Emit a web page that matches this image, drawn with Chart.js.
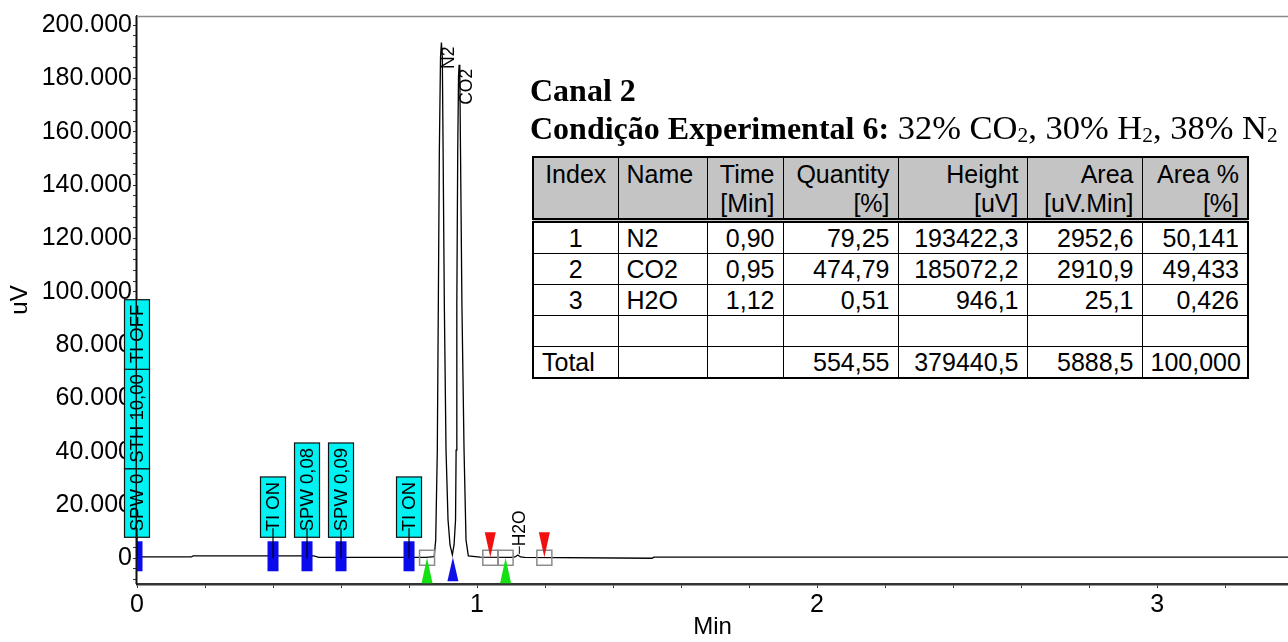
<!DOCTYPE html>
<html>
<head>
<meta charset="utf-8">
<script src="https://cdn.jsdelivr.net/npm/chart.js@4.4.1/dist/chart.umd.min.js"></script>
<style>
  html, body { margin: 0; padding: 0; background: #fff; }
  #wrap { position: relative; width: 1288px; height: 642px; overflow: hidden; }
  #chart { position: absolute; left: 0; top: 0; }
  .title { position: absolute; left: 530px; font-family: "Liberation Serif", "Times New Roman", serif;
           font-size: 32px; line-height: 37px; color: #000; white-space: nowrap; }
  .title .reg { font-size: 34.5px; }
  .title sub { font-size: 0.62em; vertical-align: -0.15em; line-height: 0; }
  #tbl { position: absolute; left: 532px; top: 156px; width: 715px; table-layout: fixed;
         border-collapse: collapse; background: #fff; border: 2px solid #000;
         font-family: "Liberation Sans", Arial, sans-serif; font-size: 25px; color: #000; }
  #tbl td, #tbl th { border: 1.5px solid #000; padding: 0 8px; font-weight: normal; white-space: nowrap;
                     line-height: 29px; height: 30px; text-align: right; overflow: visible; }
  #tbl th { background: #c4c4c4; vertical-align: top; height: 58px; border-bottom: 5px double #000; padding-top: 2px; }
  #tbl .l { text-align: left; }
  #tbl .c { text-align: center; }
</style>
</head>
<body>
<div id="wrap">
  <canvas id="chart" width="1288" height="642"></canvas>
  <div class="title" style="top:72px"><b>Canal 2</b></div>
  <div class="title" style="top:109px"><b>Condição Experimental 6:</b><span class="reg"> 32% CO<sub>2</sub>, 30% H<sub>2</sub>, 38% N<sub>2</sub></span></div>
  <table id="tbl"></table>
</div>
<script>
// ─── data ────────────────────────────────────────────────────────────────────
const traceTime  = [0, 0.16, 0.165, 0.52, 0.535, 0.85, 0.874, 0.8785, 0.8832, 0.8862, 0.8891, 0.8926, 0.8953,
                    0.8979, 0.9003, 0.9038, 0.9088, 0.9147, 0.9206, 0.9274, 0.9324, 0.9368, 0.9385, 0.9406,
                    0.9432, 0.9456, 0.9474, 0.9494, 0.9515, 0.9555, 0.9618, 0.9676, 0.9744, 1.009, 1.10,
                    1.112, 1.12, 1.128, 1.14, 1.515, 1.52, 3.385];
const traceValue = [500, 500, 900, 900, 300, 300, 600, 6900, 40600, 95600, 151700, 188000, 193422,
                    188000, 151700, 95600, 40600, 14400, 5000, 1300, 5000, 14400, 40600, 95600,
                    151700, 181000, 185072, 181000, 151700, 95600, 40600, 6900, 900, 400, 300,
                    500, 1250, 500, 300, 0, 400, 400];

const eventTimes  = [0, 0.4, 0.5, 0.6, 0.8];
const eventLabels = [['SPW 0', 'STH 10,00', 'TI OFF'], ['TI ON'], ['SPW 0,08'], ['SPW 0,09'], ['TI ON']];

const peakStartTimes = [0.853, 1.084];
const valleyTimes    = [0.929];
const peakEndTimes   = [1.039, 1.198];

const peakNames      = ['N2', 'CO2', 'H2O'];
const peakApexTimes  = [0.8953, 0.9474, 1.12];
const peakApexValues = [193422, 185072, 1250];

const xTickLabels = [0, 1, 2, 3];
const yTickLabels = [0, 20000, 40000, 60000, 80000, 100000, 120000, 140000, 160000, 180000, 200000];

const tableHead = [['Index', ''], ['Name', ''], ['Time', '[Min]'], ['Quantity', '[%]'],
                   ['Height', '[uV]'], ['Area', '[uV.Min]'], ['Area %', '[%]']];
const tableRows = [
  ['1', 'N2', '0,90', '79,25', '193422,3', '2952,6', '50,141'],
  ['2', 'CO2', '0,95', '474,79', '185072,2', '2910,9', '49,433'],
  ['3', 'H2O', '1,12', '0,51', '946,1', '25,1', '0,426'],
  ['', '', '', '', '', '', ''],
  ['Total', '', '', '554,55', '379440,5', '5888,5', '100,000'],
];

// ─── results table ───────────────────────────────────────────────────────────
const colW = [85, 89, 76, 115, 129, 115, 106];
(function buildTable() {
  const t = document.getElementById('tbl');
  let html = '<colgroup>' + colW.map(w => `<col style="width:${w}px">`).join('') + '</colgroup>';
  html += '<tr>' + tableHead.map((h, i) =>
    `<th class="${i === 0 ? 'c' : i === 1 ? 'l' : ''}">${h[0]}${h[1] ? '<br>' + h[1] : ''}</th>`).join('') + '</tr>';
  tableRows.forEach((r, ri) => {
    html += '<tr>' + r.map((c, i) => {
      let cls = '';
      if (i === 0) cls = ri === 4 ? 'l' : 'c';
      if (i === 1) cls = 'l';
      return `<td class="${cls}">${c || '&nbsp;'}</td>`;
    }).join('') + '</tr>';
  });
  t.innerHTML = html;
})();

// ─── chart ───────────────────────────────────────────────────────────────────
const SANS = '"Liberation Sans", Arial, sans-serif';
const yFmt = v => v === 0 ? '0' : (v / 1000) + '.000';

const markPlugin = {
  id: 'marks',
  afterDatasetsDraw(chart) {
    const { ctx, chartArea: a, scales: { x, y } } = chart;
    const y0 = y.getPixelForValue(0);
    ctx.save();

    // top frame
    ctx.strokeStyle = '#8a8a8a';
    ctx.lineWidth = 1.5;
    ctx.beginPath(); ctx.moveTo(a.left, a.top + 0.5); ctx.lineTo(a.right, a.top + 0.5); ctx.stroke();

    // peak names
    ctx.fillStyle = '#000';
    ctx.font = '17.5px ' + SANS;
    ctx.textBaseline = 'middle';
    peakNames.forEach((n, i) => {
      const px = x.getPixelForValue(peakApexTimes[i]);
      const py = y.getPixelForValue(peakApexValues[i]);
      ctx.save();
      if (y0 - py > 40) {
        ctx.translate(px + 8, py + 4);
        ctx.rotate(-Math.PI / 2);
        ctx.textAlign = 'right';
        ctx.fillText(n, 0, 0);
      } else {
        ctx.strokeStyle = '#000'; ctx.lineWidth = 1;
        ctx.beginPath(); ctx.moveTo(px + 1.5, y0 - 12); ctx.lineTo(px + 1.5, py - 1); ctx.stroke();
        ctx.translate(px + 2, y0 - 12);
        ctx.rotate(-Math.PI / 2);
        ctx.textAlign = 'left';
        ctx.fillText(n, 0, 0);
      }
      ctx.restore();
    });

    // integration marks, clipped to plot area
    ctx.save();
    ctx.beginPath(); ctx.rect(a.left, a.top, a.right - a.left, a.bottom - a.top); ctx.clip();

    const tri = (px, tipY, baseY, col) => {
      ctx.fillStyle = col;
      ctx.beginPath(); ctx.moveTo(px, tipY); ctx.lineTo(px - 5.5, baseY); ctx.lineTo(px + 5.5, baseY); ctx.closePath(); ctx.fill();
    };
    const box = px => {
      ctx.strokeStyle = '#8c8c8c'; ctx.lineWidth = 1.5;
      ctx.strokeRect(px - 7.5, y0 - 8, 15, 15);
    };
    peakStartTimes.forEach(t => { const px = x.getPixelForValue(t); box(px); tri(px, y0 - 0.5, y0 + 25, '#14e014'); });
    peakEndTimes.forEach(t => { const px = x.getPixelForValue(t); box(px); tri(px, y0 - 1, y0 - 26, '#f01010'); });
    valleyTimes.forEach(t => { const px = x.getPixelForValue(t); tri(px, y0 - 1, y0 + 23, '#1010e8'); });

    // blue event ticks
    ctx.fillStyle = '#0a0aee';
    eventTimes.forEach(t => { const px = x.getPixelForValue(t); ctx.fillRect(px - 5.5, y0 - 17, 11, 30); });
    ctx.restore();

    // event label boxes
    ctx.font = '18.5px ' + SANS;
    eventTimes.forEach((t, i) => {
      const px = x.getPixelForValue(t);
      let bottom = y0 - 21;
      eventLabels[i].forEach(lab => {
        const h = ctx.measureText(lab).width + 11;
        ctx.fillStyle = '#00f2f2';
        ctx.fillRect(px - 12.5, bottom - h, 25, h);
        ctx.strokeStyle = '#111'; ctx.lineWidth = 1.2;
        ctx.strokeRect(px - 12.5, bottom - h, 25, h);
        ctx.save();
        ctx.translate(px + 1, bottom - 6);
        ctx.rotate(-Math.PI / 2);
        ctx.fillStyle = '#000';
        ctx.textAlign = 'left';
        ctx.textBaseline = 'middle';
        ctx.fillText(lab, 0, 0);
        ctx.restore();
        bottom -= h;
      });
      ctx.strokeStyle = '#000'; ctx.lineWidth = 1.2;
      ctx.beginPath(); ctx.moveTo(px, y0 - 30); ctx.lineTo(px, y0); ctx.stroke();
    });

    // y axis line over the boxes
    ctx.strokeStyle = '#111'; ctx.lineWidth = 1.5;
    ctx.beginPath(); ctx.moveTo(a.left - 0.75, a.top); ctx.lineTo(a.left - 0.75, a.bottom); ctx.stroke();
    ctx.restore();
  },
};

new Chart(document.getElementById('chart'), {
  type: 'line',
  data: {
    datasets: [{
      data: traceTime.map((t, i) => ({ x: t, y: traceValue[i] })),
      borderColor: '#000', borderWidth: 1.3, pointRadius: 0, tension: 0, fill: false,
    }],
  },
  options: {
    responsive: false, animation: false, devicePixelRatio: 1,
    layout: { padding: { top: 15, right: 0, bottom: 0, left: 0 } },
    plugins: { legend: { display: false }, tooltip: { enabled: false } },
    scales: {
      x: {
        type: 'linear', min: 0, max: 3.385,
        afterBuildTicks: s => { const tk = []; for (let k = 0; k <= 16; k++) tk.push({ value: +(k * 0.2).toFixed(1) }); s.ticks = tk; },
        afterFit: s => { s.height = 58; },
        ticks: {
          autoSkip: false, maxRotation: 0, padding: 2, color: '#000', font: { family: SANS, size: 25 },
          callback: v => xTickLabels.includes(v) ? String(v) : '',
        },
        grid: { drawOnChartArea: false, drawTicks: true, tickLength: 4, tickColor: '#333' },
        border: { display: true, color: '#333', width: 2.5 },
        title: { display: true, text: 'Min', color: '#000', font: { family: SANS, size: 24 }, padding: { top: 0, bottom: 0 } },
      },
      y: {
        type: 'linear', min: -9650, max: 203400,
        afterBuildTicks: s => { const tk = []; for (let v = -8000; v <= 200000; v += 4000) tk.push({ value: v }); s.ticks = tk; },
        afterFit: s => { s.width = 137; },
        ticks: {
          autoSkip: false, padding: 1, color: '#000', font: { family: SANS, size: 25 },
          callback: v => yTickLabels.includes(v) ? yFmt(v) : '',
        },
        grid: { drawOnChartArea: false, drawTicks: true, tickLength: 4, tickColor: '#333' },
        border: { display: true, color: '#111', width: 1.5 },
        title: { display: true, text: 'uV', color: '#000', font: { family: SANS, size: 24 }, padding: { top: 6, bottom: 0 } },
      },
    },
  },
  plugins: [markPlugin],
});
</script>
</body>
</html>
